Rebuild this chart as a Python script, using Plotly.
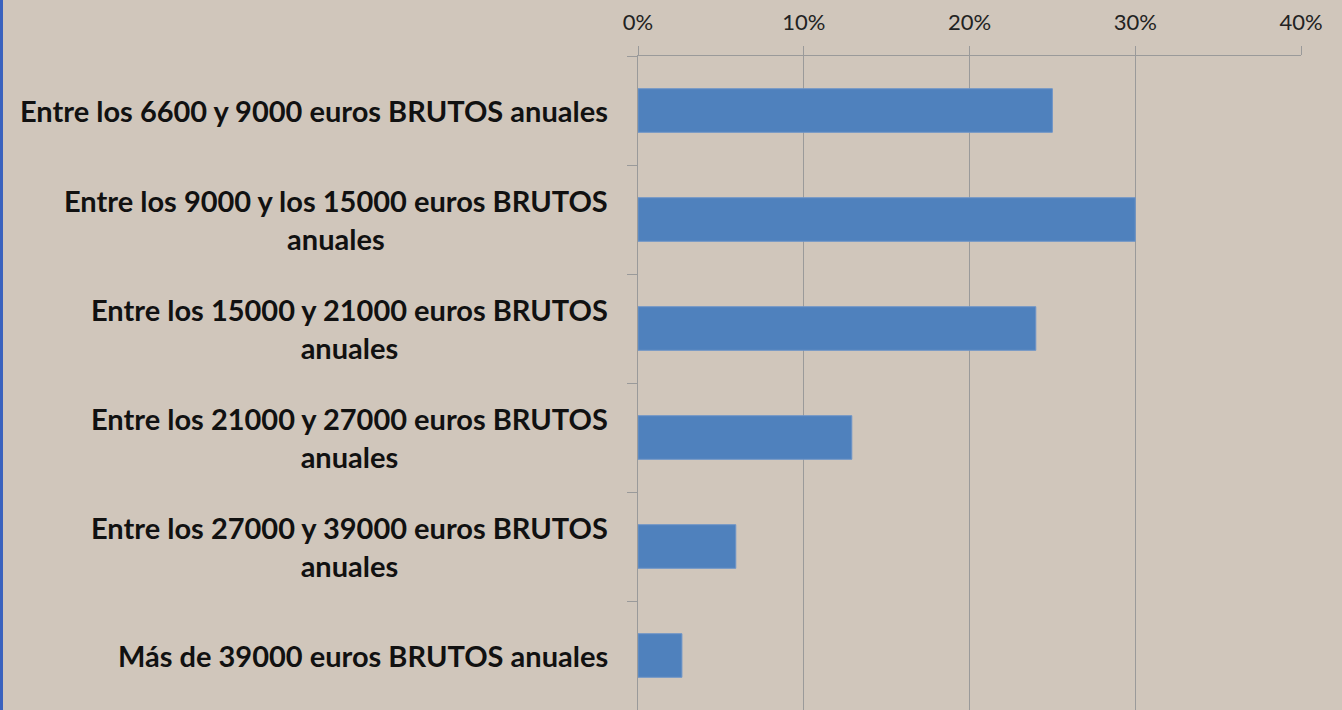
import plotly.graph_objects as go

BG = '#D0C6BB'
BAR_BLUE = '#4F81BD'
GRID_GRAY = '#9A9A9A'

categories = [
    'Entre los 6600 y 9000 euros BRUTOS anuales',
    'Entre los 9000 y los 15000 euros BRUTOS<br>anuales',
    'Entre los 15000 y 21000 euros BRUTOS<br>anuales',
    'Entre los 21000 y 27000 euros BRUTOS<br>anuales',
    'Entre los 27000 y 39000 euros BRUTOS<br>anuales',
    'Más de 39000 euros BRUTOS anuales',
]
shares = [0.25, 0.30, 0.24, 0.129, 0.059, 0.0265]
xticks = [0, 0.1, 0.2, 0.3, 0.4]

cat_ids = list(range(len(categories)))

fig = go.Figure(go.Bar(
    x=shares, y=cat_ids, orientation='h',
    marker=dict(color=BAR_BLUE, line=dict(color='#6F95C8', width=1)),
    hoverinfo='skip',
))

for i, label in zip(cat_ids, categories):
    fig.add_annotation(
        x=0, xref='paper', xanchor='right', xshift=-28,
        y=i, yref='y', yanchor='middle',
        text=label, showarrow=False, align='center',
        font=dict(family='Lato', size=29, color='#111111', weight='bold'),
    )

fig.update_xaxes(
    side='top', range=[0, 0.4], tickvals=xticks, tickformat='.0%',
    showgrid=True, gridcolor=GRID_GRAY, gridwidth=1,
    ticks='outside', ticklen=9, tickcolor=GRID_GRAY,
    ticklabelstandoff=7,
    showline=True, linecolor=GRID_GRAY, linewidth=1,
    tickfont=dict(family='Lato', size=22, color='#222222'),
    zeroline=False, fixedrange=True,
)
fig.update_yaxes(
    type='category', categoryorder='array', categoryarray=cat_ids,
    autorange=False, range=[5.5, -0.5],
    tickson='boundaries', ticks='outside', ticklen=10, tickcolor=GRID_GRAY,
    showticklabels=False, showgrid=False,
    showline=True, linecolor=GRID_GRAY, linewidth=1, fixedrange=True,
)

# thin blue frame edge on the left of the slide
fig.add_shape(type='rect', xref='paper', yref='paper', xsizemode='pixel',
              xanchor=0, x0=-638, x1=-635, y0=-0.1, y1=1.2,
              fillcolor='#3A62BE', line=dict(width=0), layer='above')

fig.update_layout(
    width=1342, height=710,
    paper_bgcolor=BG, plot_bgcolor=BG,
    bargap=0.6, showlegend=False,
    margin=dict(l=638, r=41, t=56, b=0),
)

fig.write_html('out.html', config={'displayModeBar': False},
               post_script="document.body.style.margin='0';")
